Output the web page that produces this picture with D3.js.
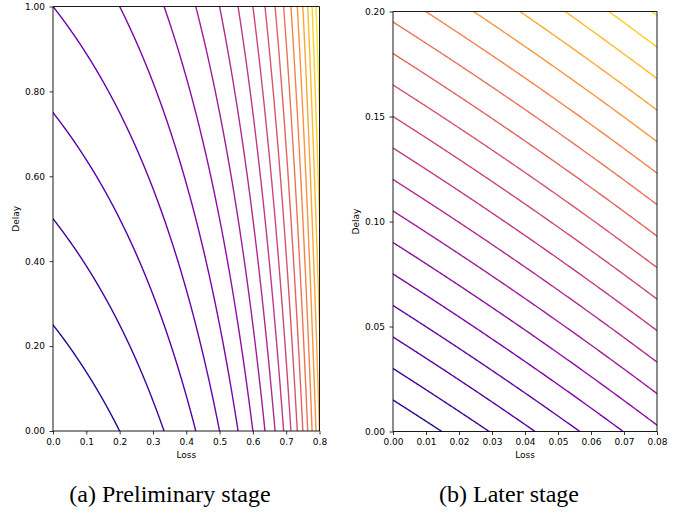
<!DOCTYPE html>
<html>
<head>
<meta charset="utf-8">
<script src="https://d3js.org/d3.v7.min.js"></script>
<style>
body { margin: 0; background: #ffffff; }
</style>
</head>
<body>
<div id="chart"></div>
<script>
// (a) preliminary stage
var lossTicksA = [0.0, 0.1, 0.2, 0.3, 0.4, 0.5, 0.6, 0.7, 0.8];
var delayTicksA = [0.0, 0.2, 0.4, 0.6, 0.8, 1.0];
var levelsA = [0.25, 0.5, 0.75, 1.0, 1.25, 1.5, 1.75, 2.0, 2.25, 2.5,
               2.75, 3.0, 3.25, 3.5, 3.75, 4.0, 4.25, 4.5, 4.75, 5.0];
var colorRangeA = [0, 5.0];

// (b) later stage
var lossTicksB = [0.00, 0.01, 0.02, 0.03, 0.04, 0.05, 0.06, 0.07, 0.08];
var delayTicksB = [0.00, 0.05, 0.10, 0.15, 0.20];
var levelsB = [0.015, 0.03, 0.045, 0.06, 0.075, 0.09, 0.105, 0.12, 0.135, 0.15,
               0.165, 0.18, 0.195, 0.21, 0.225, 0.24, 0.255, 0.27, 0.285];
var colorRangeB = [0, 0.3];

var captions = ["(a) Preliminary stage", "(b) Later stage"];

// cost surface that is contoured in both panels
function cost(loss, delay) {
	return delay + loss / (1 - loss);
}

var width = 689;
var height = 512;
var sansFont = "'DejaVu Sans'";
var serifFont = "'Liberation Serif'";

var svg = d3.select("#chart")
	.append("svg")
	.attr("width", width)
	.attr("height", height);

function drawPanel(p) {
	var x = d3.scaleLinear().domain([p.lossTicks[0], p.lossTicks[p.lossTicks.length - 1]]).range(p.xRange);
	var y = d3.scaleLinear().domain([p.delayTicks[0], p.delayTicks[p.delayTicks.length - 1]]).range(p.yRange);
	var color = d3.scaleSequential(d3.interpolatePlasma).domain(p.colorRange);

	var g = svg.append("g");

	g.append("clipPath")
		.attr("id", p.id + "-clip")
		.append("rect")
		.attr("x", p.xRange[0])
		.attr("y", p.yRange[1])
		.attr("width", p.xRange[1] - p.xRange[0])
		.attr("height", p.yRange[0] - p.yRange[1]);

	// grid a bit larger than the axes so polygon borders fall outside the clip
	var xd = x.domain(), yd = y.domain();
	var padX = (xd[1] - xd[0]) * 0.03, padY = (yd[1] - yd[0]) * 0.03;
	var lx = xd[0] - padX, hx = xd[1] + padX;
	var ly = yd[0] - padY, hy = yd[1] + padY;
	var n = 400, m = 400;
	var sx = (hx - lx) / (n - 1), sy = (hy - ly) / (m - 1);
	var values = new Array(n * m);
	for (var j = 0; j < m; j++) {
		for (var i = 0; i < n; i++) {
			values[j * n + i] = cost(lx + i * sx, ly + j * sy);
		}
	}

	var contours = d3.contours()
		.size([n, m])
		.thresholds(p.levels)(values);

	var path = d3.geoPath(d3.geoTransform({
		point: function(px, py) {
			this.stream.point(x(lx + (px - 0.5) * sx), y(ly + (py - 0.5) * sy));
		}
	}));

	g.append("g")
		.attr("clip-path", "url(#" + p.id + "-clip)")
		.selectAll("path")
		.data(contours)
		.enter()
		.append("path")
		.attr("d", path)
		.attr("fill", "none")
		.attr("stroke", function(d) { return color(d.value); })
		.attr("stroke-width", 1.4);

	// spines
	var spines = [
		[p.xRange[0], p.yRange[1], p.xRange[1], p.yRange[1]],
		[p.xRange[0], p.yRange[0], p.xRange[1], p.yRange[0]],
		[p.xRange[0], p.yRange[0], p.xRange[0], p.yRange[1]],
		[p.xRange[1], p.yRange[0], p.xRange[1], p.yRange[1]]
	];
	g.selectAll("line.spine")
		.data(spines)
		.enter()
		.append("line")
		.attr("class", "spine")
		.attr("x1", function(d) { return d[0]; })
		.attr("y1", function(d) { return d[1]; })
		.attr("x2", function(d) { return d[2]; })
		.attr("y2", function(d) { return d[3]; })
		.attr("stroke", "#000")
		.attr("stroke-width", 0.9);

	var xAxis = g.append("g")
		.attr("transform", "translate(0," + p.yRange[0] + ")")
		.call(d3.axisBottom(x)
			.tickValues(p.lossTicks)
			.tickFormat(d3.format(p.xFormat))
			.tickSize(3.5)
			.tickPadding(4));
	var yAxis = g.append("g")
		.attr("transform", "translate(" + p.xRange[0] + ",0)")
		.call(d3.axisLeft(y)
			.tickValues(p.delayTicks)
			.tickFormat(d3.format(".2f"))
			.tickSize(3.5)
			.tickPadding(4.5));

	[xAxis, yAxis].forEach(function(a) {
		a.attr("font-family", null).attr("font-size", null);
		a.select(".domain").remove();
		a.selectAll(".tick line").attr("stroke", "#000").attr("stroke-width", 0.8);
		a.selectAll(".tick text")
			.style("font-family", sansFont)
			.style("font-size", "9px")
			.attr("fill", "#000");
	});

	g.append("text")
		.attr("x", (p.xRange[0] + p.xRange[1]) / 2)
		.attr("y", 457.6)
		.attr("text-anchor", "middle")
		.style("font-family", sansFont)
		.style("font-size", "9px")
		.text("Loss");

	g.append("text")
		.attr("transform", "translate(" + p.yLabelX + "," + ((p.yRange[0] + p.yRange[1]) / 2) + ") rotate(-90)")
		.attr("text-anchor", "middle")
		.style("font-family", sansFont)
		.style("font-size", "9px")
		.text("Delay");

	svg.append("text")
		.attr("x", p.captionX)
		.attr("y", 502)
		.attr("text-anchor", "middle")
		.style("font-family", serifFont)
		.style("font-size", "24px")
		.attr("fill", "#000")
		.text(p.caption);
}

drawPanel({
	id: "a",
	lossTicks: lossTicksA,
	delayTicks: delayTicksA,
	levels: levelsA,
	colorRange: colorRangeA,
	xRange: [53, 319.5],
	yRange: [431, 6.5],
	xFormat: ".1f",
	yLabelX: 18.5,
	caption: captions[0],
	captionX: 170
});

drawPanel({
	id: "b",
	lossTicks: lossTicksB,
	delayTicks: delayTicksB,
	levels: levelsB,
	colorRange: colorRangeB,
	xRange: [393, 657],
	yRange: [431.5, 11.5],
	xFormat: ".2f",
	yLabelX: 358.5,
	caption: captions[1],
	captionX: 509
});
</script>
</body>
</html>
